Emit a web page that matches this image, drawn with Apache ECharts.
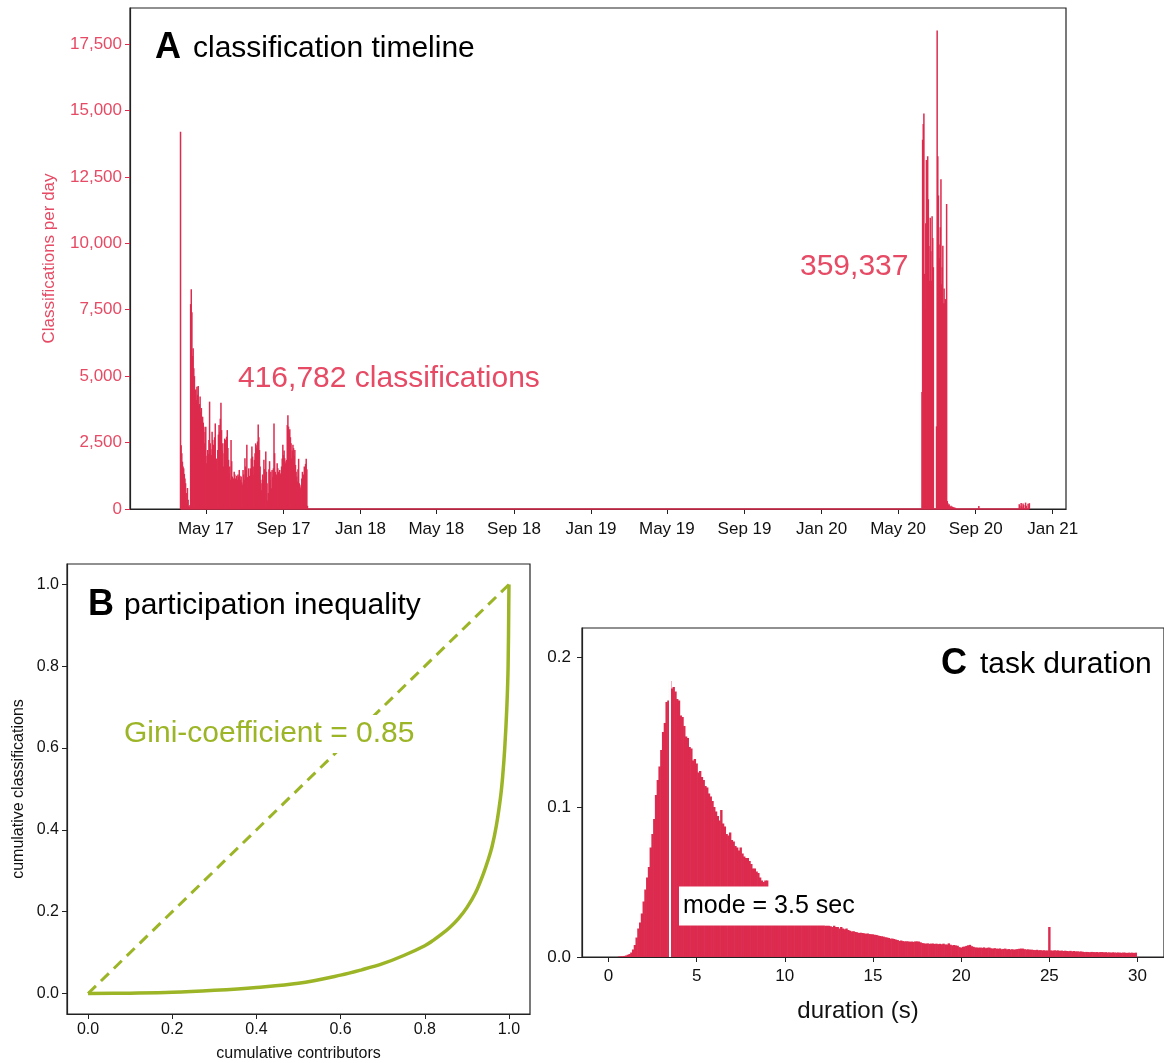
<!DOCTYPE html>
<html>
<head>
<meta charset="utf-8">
<script src="https://cdn.jsdelivr.net/npm/echarts@6/dist/echarts.min.js"></script>
<style>
  html, body { margin: 0; padding: 0; background: #fff; }
  #main { width: 1164px; height: 1063px; }
</style>
</head>
<body>
<div id="main"></div>
<script>
// ---- A: classifications per day ----
var c1Start = '2017-03-22';
var c1Values = [
  14200, 2400, 2100, 1780, 1600, 1530, 1320, 1150, 970, 600, 230, 790, 350, 120, 80, 150,
  7710, 8270, 7400, 5760, 6050, 5300, 5000, 4250, 4500, 4100,
  4600, 4300, 4630, 3880, 3950, 4230, 3660, 3800, 3470, 3470,
  3250, 3100, 2470, 2900, 3100, 1720, 2000, 2220, 2070, 2600,
  4040, 2470, 2250, 2030, 2910, 2600, 2420, 2220, 2700, 3220,
  1720, 1900, 1440, 2220, 2800, 3160, 2910, 3400, 4000, 2970,
  2200, 2470, 1600, 2100, 2650, 2600, 2400, 2720, 2970, 2300,
  1850, 1350, 1600, 1100, 2600, 1800, 1220, 970, 1150, 1400,
  1300, 1150, 1000, 1250,
  1100, 1300, 1220, 1470, 1250, 1100, 1220, 1000, 910, 1470,
  1300, 1100, 1910, 1600, 1470, 2420, 1200, 780, 1530, 1250,
  1100, 1530, 1900, 2350, 1970, 1600, 1290, 1850, 2100, 2470,
  2290, 2400, 2540, 3180, 2700, 2220, 1600, 1100, 710, 970,
  1300, 1100, 1850, 1500, 1220, 2160, 1400, 970, 320, 600,
  1500, 1800, 1100, 1400,
  780, 1470, 1200, 1530, 3220, 2100, 1400, 970, 1300, 1720,
  1530, 1400, 1220, 1470, 1300, 1350, 1600, 1900, 2420, 2030,
  2200, 1910, 1720, 1800, 1850, 3160, 3530, 3100, 2850, 3000,
  2700, 2470, 1910, 2200, 2420, 2290, 2000, 2220, 1660, 1400,
  1220, 1030, 1500, 1890, 970, 850, 780, 910, 1150, 1400,
  1220, 1300, 1600, 1470, 1700, 1890, 1500, 120
];
var c2aStart = '2020-06-08';
var c2aValues = [4400, 13900, 14490, 14880, 8850, 7500, 10750, 13130, 12600, 13280,
                 11660, 9900, 8590, 10960, 9700, 8590, 11020, 10200, 9100];
var c2bStart = '2020-07-01';
var c2bValues = [3110, 18010, 13280, 11800, 9950, 9450, 10600, 12410, 8460, 9100,
                 9910, 7740, 8300, 7740, 7900, 7740, 11480,
                 300, 220, 150, 180, 100, 80, 120, 60, 90, 50, 70, 40, 60, 30];
var lateDays = [['2020-09-06', 110], ['2020-11-09', 180], ['2020-11-10', 120], ['2020-11-12', 230],
                ['2020-11-13', 90], ['2020-11-15', 210], ['2020-11-16', 150], ['2020-11-19', 240],
                ['2020-11-20', 120], ['2020-11-23', 200], ['2020-11-25', 220]];
var timeTickDates = ['2017-05-01', '2017-09-01', '2018-01-01', '2018-05-01', '2018-09-01', '2019-01-01',
                     '2019-05-01', '2019-09-01', '2020-01-01', '2020-05-01', '2020-09-01', '2021-01-01'];
var timeTickLabels = ['May 17', 'Sep 17', 'Jan 18', 'May 18', 'Sep 18', 'Jan 19',
                      'May 19', 'Sep 19', 'Jan 20', 'May 20', 'Sep 20', 'Jan 21'];
var total2017 = 416782;
var total2020 = 359337;

// ---- B: Lorenz curve ----
var lorenzX = [0, 0.1, 0.2, 0.3, 0.4, 0.5, 0.6, 0.65, 0.7, 0.75, 0.8, 0.82, 0.84, 0.86, 0.88, 0.9,
               0.92, 0.94, 0.95, 0.96, 0.97, 0.98, 0.985, 0.99, 0.995, 0.998, 1.0];
var lorenzY = [0, 0.001, 0.003, 0.008, 0.015, 0.025, 0.045, 0.058, 0.073, 0.093, 0.117, 0.13, 0.145, 0.162, 0.183, 0.21,
               0.245, 0.295, 0.325, 0.36, 0.41, 0.48, 0.53, 0.60, 0.70, 0.80, 1.0];
var unitTicks = [0, 0.2, 0.4, 0.6, 0.8, 1.0];
var gini = 0.85;

// ---- C: task duration histogram (0.1 s bins, centred on 0.0, 0.1, ...) ----
var durBin = 0.1;
var durValues = [
  0, 0, 0, 0, 0, 0, 0.0003, 0.0004, 0.0005, 0.0007,
  0.001, 0.0015, 0.002, 0.003, 0.005, 0.008, 0.013, 0.019, 0.023, 0.029,
  0.037, 0.045, 0.053, 0.060, 0.073, 0.082, 0.092, 0.108, 0.118, 0.127,
  0.138, 0.150, 0.156, 0.170, 0.171, 0.184, 0.179, 0.180, 0.177, 0.172,
  0.171, 0.161, 0.160, 0.154, 0.147, 0.146, 0.140, 0.139, 0.131, 0.132,
  0.129, 0.123, 0.124, 0.120, 0.118, 0.114, 0.113, 0.109, 0.107, 0.104,
  0.100, 0.097, 0.094, 0.091, 0.098, 0.089, 0.087, 0.082, 0.081, 0.083,
  0.078, 0.077, 0.074, 0.073, 0.071, 0.073, 0.069, 0.067, 0.066, 0.066,
  0.064, 0.062, 0.059, 0.059, 0.057, 0.056, 0.053, 0.051, 0.050, 0.051,
  0.051, 0.046, 0.045, 0.044, 0.044, 0.042, 0.041, 0.041, 0.039, 0.038,
  0.037, 0.036, 0.036, 0.034, 0.033, 0.033, 0.031, 0.031, 0.030, 0.029,
  0.028, 0.028, 0.027, 0.026, 0.026, 0.025, 0.025, 0.024, 0.024, 0.023,
  0.023, 0.022, 0.022, 0.021, 0.021, 0.021, 0.0205, 0.020, 0.021, 0.020,
  0.020, 0.019, 0.020, 0.019, 0.0185, 0.019, 0.018, 0.0175, 0.017, 0.0172,
  0.0167, 0.0165, 0.016, 0.0162, 0.016, 0.0158, 0.0155, 0.0157, 0.0153, 0.0152,
  0.0151, 0.0148, 0.0147, 0.0143, 0.014, 0.0138, 0.0136, 0.0132, 0.0130, 0.0127,
  0.0122, 0.0123, 0.012, 0.0116, 0.0113, 0.0107, 0.011, 0.0106, 0.0104, 0.0105,
  0.0104, 0.0102, 0.0103, 0.0101, 0.0104, 0.0104, 0.0103, 0.0098, 0.0093, 0.0091,
  0.0089, 0.0091, 0.0088, 0.0089, 0.009, 0.0087, 0.0089, 0.0086, 0.0088, 0.0085,
  0.0089, 0.0084, 0.0083, 0.0091, 0.0082, 0.0078, 0.0080, 0.0077, 0.0075, 0.0066,
  0.0062, 0.0068, 0.0070, 0.0074, 0.0078, 0.0081, 0.0072, 0.0068, 0.0064, 0.0063,
  0.0062, 0.0063, 0.0061, 0.0064, 0.0059, 0.0062, 0.0063, 0.0058, 0.0056, 0.0059,
  0.0056, 0.0055, 0.0057, 0.0052, 0.0054, 0.0056, 0.0051, 0.0053, 0.0050, 0.0052,
  0.0049, 0.0051, 0.0053, 0.0055, 0.0056, 0.0056, 0.0052, 0.0050, 0.0051, 0.0049,
  0.0049, 0.0047, 0.0046, 0.0048, 0.0045, 0.0046, 0.0044, 0.0045, 0.0043, 0.0044,
  0.020, 0.0044, 0.0042, 0.0045, 0.0043, 0.0044, 0.0041, 0.0043, 0.0040, 0.0042,
  0.0040, 0.0039, 0.0041, 0.0038, 0.0040, 0.0037, 0.0038, 0.0036, 0.0037, 0.0035,
  0.0033, 0.0034, 0.0033, 0.0032, 0.0034, 0.0033, 0.0032, 0.0033, 0.0031, 0.0033,
  0.0033, 0.0031, 0.0032, 0.0030, 0.0031, 0.0029, 0.0031, 0.0030, 0.0029, 0.0030,
  0.0029, 0.0028, 0.0030, 0.0029, 0.0027, 0.0029, 0.0028, 0.0029, 0.0027, 0.0029
];
var durTicks = [0, 5, 10, 15, 20, 25, 30];
var modeSec = 3.5;

(function () {
  var RED = '#dc2b4e';
  var RED_TXT = '#e64a64';
  var GREEN = '#9bb526';
  var FONT = '"Liberation Sans", Arial, Helvetica, sans-serif';

  // 日期 -> 本地时间戳
  function day(s, add) {
    var p = s.split('-');
    return new Date(+p[0], p[1] - 1, +p[2] + (add || 0)).getTime();
  }

  var dataA = [];
  c1Values.forEach(function (v, i) { dataA.push([day(c1Start, i), v]); });
  c2aValues.forEach(function (v, i) { dataA.push([day(c2aStart, i), v]); });
  c2bValues.forEach(function (v, i) { dataA.push([day(c2bStart, i), v]); });
  lateDays.forEach(function (d) { dataA.push([day(d[0]), d[1]]); });
  var firstDay = dataA[0][0];
  var lastDay = dataA[dataA.length - 1][0];

  var tickTs = timeTickDates.map(function (s) { return day(s); });

  var lorenz = lorenzX.map(function (x, i) { return [x, lorenzY[i]]; });

  var dataC = durValues.map(function (v, i) { return [+(i * durBin).toFixed(1), v]; });
  var modeIdx = Math.round(modeSec / durBin);
  var modeH = durValues[modeIdx];

  var myChart = echarts.init(document.getElementById('main'));

  // 轴线不要跟着 0 走
  var axisLineBlack = { show: true, onZero: false, lineStyle: { color: '#222', width: 1.2 } };

  var option = {
    animation: false,
    backgroundColor: '#fff',
    textStyle: { fontFamily: FONT },
    grid: [
      { left: 130, top: 8, width: 936, height: 501, show: true, borderColor: '#222', borderWidth: 1.2 },
      { left: 67, top: 564, width: 463, height: 450, show: true, borderColor: '#222', borderWidth: 1.2 },
      { left: 582, top: 628, width: 594, height: 329, show: true, borderColor: '#222', borderWidth: 1.2 }
    ],
    xAxis: [
      {
        // 时间戳放在数值轴上, 刻度只放在每年 1/5/9 月
        type: 'value', gridIndex: 0,
        min: day('2017-01-01'), max: day('2021-01-22'),
        axisLine: axisLineBlack,
        axisTick: { show: true, customValues: tickTs, length: 5, lineStyle: { color: '#222' } },
        axisLabel: {
          customValues: tickTs, fontSize: 17, color: '#111', margin: 12, fontFamily: FONT,
          formatter: function (val) {
            var k = tickTs.indexOf(+val);
            return k >= 0 ? timeTickLabels[k] : '';
          }
        },
        splitLine: { show: false }
      },
      {
        type: 'value', gridIndex: 1, min: -0.05, max: 1.05,
        axisLine: axisLineBlack,
        axisTick: { show: true, customValues: unitTicks, length: 5, lineStyle: { color: '#222' } },
        axisLabel: {
          customValues: unitTicks, fontSize: 16, color: '#111', margin: 8, fontFamily: FONT,
          formatter: function (v) { return (+v).toFixed(1); }
        },
        splitLine: { show: false },
        name: 'cumulative contributors', nameLocation: 'middle', nameGap: 32,
        nameTextStyle: { fontSize: 16, color: '#111', fontFamily: FONT }
      },
      {
        type: 'value', gridIndex: 2, min: -1.5, max: 31.5,
        axisLine: axisLineBlack,
        axisTick: { show: true, customValues: durTicks, length: 5, lineStyle: { color: '#222' } },
        axisLabel: { customValues: durTicks, fontSize: 17, color: '#111', margin: 11, fontFamily: FONT },
        splitLine: { show: false },
        name: 'duration (s)', nameLocation: 'middle', nameGap: 42,
        nameTextStyle: { fontSize: 24, color: '#111', fontFamily: FONT, padding: [0, 30, 0, 0] }
      }
    ],
    yAxis: [
      {
        type: 'value', gridIndex: 0, min: 0, max: 18855, interval: 2500,
        axisLine: axisLineBlack,
        axisTick: { show: true, length: 5, lineStyle: { color: RED } },
        axisLabel: {
          fontSize: 17, color: RED_TXT, margin: 8, showMaxLabel: false, fontFamily: FONT,
          formatter: function (v) { return Number(v).toLocaleString('en-US'); }
        },
        splitLine: { show: false },
        name: 'Classifications per day', nameLocation: 'middle', nameGap: 72,
        nameTextStyle: { fontSize: 17, color: RED_TXT, fontFamily: FONT }
      },
      {
        type: 'value', gridIndex: 1, min: -0.05, max: 1.05,
        axisLine: axisLineBlack,
        axisTick: { show: true, customValues: unitTicks, length: 5, lineStyle: { color: '#222' } },
        axisLabel: {
          customValues: unitTicks, fontSize: 16, color: '#111', margin: 8, fontFamily: FONT,
          formatter: function (v) { return (+v).toFixed(1); }
        },
        splitLine: { show: false },
        name: 'cumulative classifications', nameLocation: 'middle', nameGap: 40,
        nameTextStyle: { fontSize: 16, color: '#111', fontFamily: FONT }
      },
      {
        type: 'value', gridIndex: 2, min: 0, max: 0.2193, interval: 0.1,
        axisLine: axisLineBlack,
        axisTick: { show: true, length: 5, lineStyle: { color: '#222' } },
        axisLabel: {
          fontSize: 17, color: '#111', margin: 11, showMaxLabel: false, fontFamily: FONT,
          formatter: function (v) { return (+v).toFixed(1); }
        },
        splitLine: { show: false }
      }
    ],
    series: [
      {
        name: 'classifications', type: 'bar', xAxisIndex: 0, yAxisIndex: 0,
        data: dataA, barWidth: 1.5, itemStyle: { color: RED },
        // 零值天数在底边留下的一条红线
        markLine: {
          silent: true, symbol: 'none', animation: false,
          label: { show: false },
          lineStyle: { color: RED, width: 1.5, type: 'solid' },
          data: [[{ coord: [firstDay, 0] }, { coord: [lastDay, 0] }]]
        }
      },
      {
        name: 'equality', type: 'line', xAxisIndex: 1, yAxisIndex: 1,
        data: [[0, 0], [1, 1]], symbol: 'none',
        lineStyle: { color: GREEN, width: 3, type: [11, 7] }
      },
      {
        name: 'lorenz', type: 'line', xAxisIndex: 1, yAxisIndex: 1,
        data: lorenz, symbol: 'none', smooth: 0.35,
        lineStyle: { color: GREEN, width: 3.5 }
      },
      {
        name: 'duration', type: 'bar', xAxisIndex: 2, yAxisIndex: 2,
        data: dataC, barWidth: 2.4, itemStyle: { color: RED },
        markLine: {
          silent: true, symbol: 'none', animation: false,
          label: { show: false },
          lineStyle: { color: '#fff', width: 2, type: 'solid' },
          data: [[{ coord: [modeSec, 0] }, { coord: [modeSec, modeH] }]]
        }
      }
    ],
    graphic: [
      { type: 'text', x: 155, y: 48, style: { text: 'A', font: 'bold 36px ' + FONT, fill: '#000', verticalAlign: 'middle' } },
      { type: 'text', x: 193, y: 49, style: { text: 'classification timeline', font: '30px ' + FONT, fill: '#000', verticalAlign: 'middle' } },
      { type: 'text', x: 238, y: 379, style: { text: total2017.toLocaleString('en-US') + ' classifications', font: '30px ' + FONT, fill: RED_TXT, verticalAlign: 'middle' } },
      { type: 'text', x: 800, y: 267, style: { text: total2020.toLocaleString('en-US'), font: '30px ' + FONT, fill: RED_TXT, verticalAlign: 'middle' } },

      { type: 'text', x: 88, y: 605, style: { text: 'B', font: 'bold 36px ' + FONT, fill: '#000', verticalAlign: 'middle' } },
      { type: 'text', x: 124, y: 606, style: { text: 'participation inequality', font: '30px ' + FONT, fill: '#000', verticalAlign: 'middle' } },
      { type: 'text', x: 124, y: 734, z: 100, style: {
          text: 'Gini-coefficient = ' + gini.toFixed(2), font: '30px ' + FONT, fill: GREEN,
          verticalAlign: 'middle', backgroundColor: '#fff', padding: [4, 0, 4, 0] } },

      { type: 'text', x: 941, y: 664, style: { text: 'C', font: 'bold 36px ' + FONT, fill: '#000', verticalAlign: 'middle' } },
      { type: 'text', x: 980, y: 665, style: { text: 'task duration', font: '30px ' + FONT, fill: '#000', verticalAlign: 'middle' } },
      { type: 'text', x: 679, y: 906, z: 100, style: {
          text: 'mode = ' + modeSec + ' sec', font: '25px ' + FONT, fill: '#000',
          verticalAlign: 'middle', backgroundColor: '#fff', padding: [7, 4, 7, 4] } }
    ]
  };

  myChart.setOption(option);

  window.addEventListener('resize', function () {
    myChart.resize();
  });
})();
</script>
</body>
</html>
